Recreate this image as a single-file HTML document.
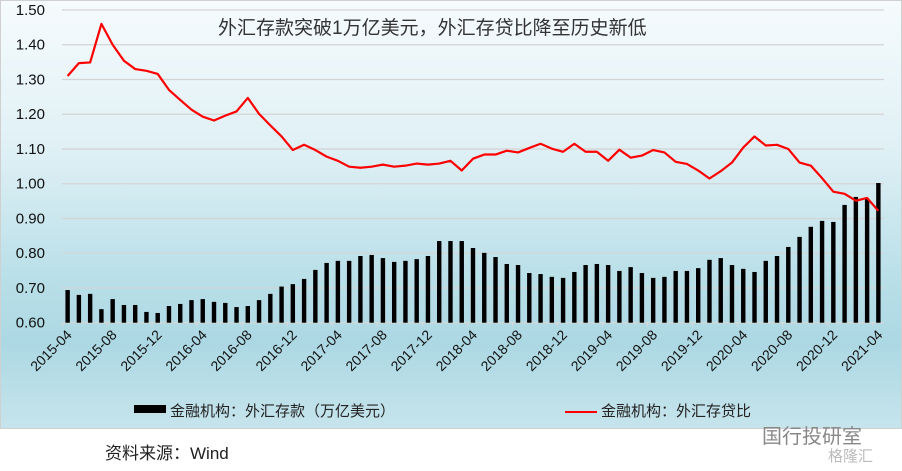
<!DOCTYPE html>
<html><head><meta charset="utf-8"><style>
body{margin:0;width:902px;height:471px;background:#fff;overflow:hidden;font-family:"Liberation Sans","Noto Sans CJK SC",sans-serif;}
#box{position:absolute;left:0;top:0;width:902px;height:429px;background:linear-gradient(#f6fbfd 0%,#dff0f5 35%,#b9dfe8 65%,#acd8e3 80%,#c6e4ec 100%);border:1px solid #d0d0d0;box-sizing:border-box;}
</style></head><body>
<div id="box"></div>
<svg id="chart" width="902" height="471" style="position:absolute;left:0;top:0"></svg>
<div style="position:absolute;left:105px;top:439px;font-size:17px;color:#222;font-family:'Liberation Sans','Noto Sans CJK SC',sans-serif;">资料来源：Wind</div>
<div style="position:absolute;left:762px;top:420px;font-size:20px;color:#888;font-family:'Noto Sans CJK SC',sans-serif;">国行投研室</div>
<div style="position:absolute;left:828px;top:445px;font-size:15px;color:#bbb;font-family:'Noto Sans CJK SC',sans-serif;">格隆汇</div>
<script>
const categories=[];
for(let i=0;i<73;i++){const m=3+i;const y=2015+Math.floor(m/12);const mo=(m%12)+1;categories.push(y+'-'+String(mo).padStart(2,'0'));}
const depositValues=[0.694,0.680,0.683,0.639,0.668,0.651,0.651,0.631,0.628,0.648,0.654,0.665,0.668,0.660,0.657,0.645,0.648,0.665,0.683,0.704,0.711,0.726,0.752,0.772,0.778,0.778,
0.792,0.795,0.786,0.775,0.778,0.783,0.792,0.835,0.835,0.835,0.815,0.801,0.789,0.769,0.766,0.743,0.740,0.732,0.729,0.746,0.766,0.769,0.766,0.749,
0.760,0.743,0.729,0.732,0.749,0.749,0.757,0.781,0.786,0.766,0.755,0.746,0.778,0.792,0.818,0.847,0.876,0.893,0.890,0.939,0.962,0.956,1.002];
const ratioValues=[1.310,1.347,1.349,1.460,1.400,1.354,1.330,1.325,1.316,1.270,1.241,1.213,1.193,1.182,1.196,1.208,1.247,1.201,1.168,1.136,1.097,1.112,1.097,1.078,1.066,1.049,
1.046,1.049,1.055,1.049,1.052,1.058,1.055,1.058,1.066,1.038,1.072,1.084,1.084,1.095,1.090,1.103,1.115,1.101,1.092,1.115,1.092,1.092,1.066,1.098,
1.075,1.081,1.097,1.090,1.063,1.057,1.038,1.015,1.036,1.061,1.104,1.136,1.110,1.112,1.100,1.061,1.052,1.016,0.977,0.971,0.951,0.959,0.922];
const yTicks=[0.60,0.70,0.80,0.90,1.00,1.10,1.20,1.30,1.40,1.50];
const x0=62,x1=884,yTop=10,yBot=322.7,yMin=0.6,yMax=1.5;
const bw=(x1-x0)/categories.length;
const X=i=>x0+bw*(i+0.5);
const Y=v=>yBot-(v-yMin)/(yMax-yMin)*(yBot-yTop);
const svg=document.getElementById('chart');const NS='http://www.w3.org/2000/svg';
function mk(t,a){const e=document.createElementNS(NS,t);for(const k in a)e.setAttribute(k,a[k]);svg.appendChild(e);return e;}
yTicks.forEach(v=>{
 const g=mk('line',{x1:x0,x2:x1,y1:Y(v),y2:Y(v),stroke:'#d4d4d4','stroke-width':1.2});
 
 
 const t=mk('text',{x:45,y:Y(v)+5,'text-anchor':'end','font-size':15,fill:'#111'});t.textContent=v.toFixed(2);
 
 
});
const ax=mk('line',{x1:x0,x2:x1,y1:yBot,y2:yBot,stroke:'#d8d8d8','stroke-width':1});


depositValues.forEach((v,i)=>{
 const r=mk('rect',{x:X(i)-2.2,y:Y(v),width:4.4,height:yBot-Y(v),fill:'#000'});
 
 
});
categories.forEach((c,i)=>{
 if(i%4===0){
  const tk=mk('line',{x1:x0+bw*i,x2:x0+bw*i,y1:yBot,y2:yBot+4,stroke:'#d8d8d8'});
  
  
  const tx=X(i)+5,ty=yBot+13;
  const t=mk('text',{x:tx,y:ty,'text-anchor':'end','font-size':14,fill:'#111',transform:`rotate(-45 ${tx} ${ty})`});t.textContent=c;
  
  
 }
});
const pl=mk('polyline',{points:ratioValues.map((v,i)=>X(i)+','+Y(v)).join(' '),fill:'none',stroke:'#ff0000','stroke-width':2.2,'stroke-linejoin':'round'});


const title=mk('text',{x:218,y:34,'font-size':19,fill:'#333'});title.textContent='外汇存款突破1万亿美元，外汇存贷比降至历史新低';


const l1=mk('rect',{x:134,y:405,width:32,height:8,fill:'#000'});


const lt1=mk('text',{x:170,y:416,'font-size':15,fill:'#222'});lt1.textContent='金融机构：外汇存款（万亿美元）';


const l2=mk('line',{x1:565,x2:597,y1:412,y2:412,stroke:'#ff0000','stroke-width':2});


const lt2=mk('text',{x:601,y:416,'font-size':15,fill:'#222'});lt2.textContent='金融机构：外汇存贷比';


</script>
</body></html>
